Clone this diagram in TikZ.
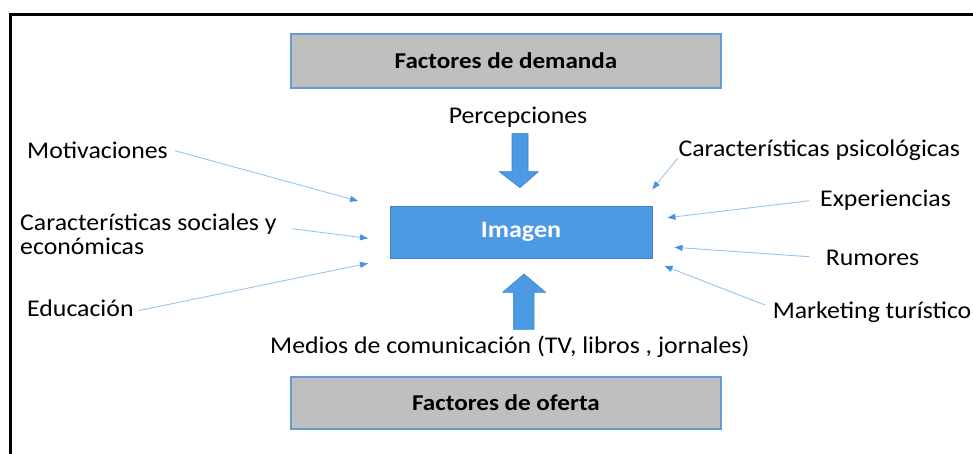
\documentclass[tikz,border=0pt]{standalone}
\usepackage{fontspec}
\setmainfont{Carlito}[FakeStretch=1.075, BoldFeatures={FakeStretch=1.11}]
\usetikzlibrary{arrows.meta}
\definecolor{boxgray}{RGB}{191,191,191}
\definecolor{boxedge}{RGB}{100,155,215}
\definecolor{imgblue}{RGB}{76,154,228}
\definecolor{imgedge}{RGB}{65,130,200}
\definecolor{linkblue}{RGB}{150,195,240}
\definecolor{tipblue}{RGB}{70,145,225}
\tikzset{
  graybox/.style={draw=boxedge, line width=1.2pt, fill=boxgray, minimum width=430pt, minimum height=54pt, inner sep=0pt, font=\fontsize{22.6}{26}\selectfont\bfseries},
  imgbox/.style={draw=imgedge, line width=0.8pt, fill=imgblue, minimum width=262pt, minimum height=52pt, inner sep=0pt, text=white, font=\fontsize{23.5}{27}\selectfont\bfseries},
  lbl/.style={inner sep=0pt, font=\fontsize{24}{29}\selectfont},
  link/.style={draw=linkblue, line width=0.9pt, -{Triangle[length=8pt,width=6pt,fill=tipblue,color=tipblue]}},
  blockarrow/.style={fill=imgblue, draw=imgedge, line width=0.6pt}
}
\begin{document}
\begin{tikzpicture}[x=1pt,y=-1pt]
\useasboundingbox (0,0) rectangle (973,453);
\draw[line width=3pt] (10,480) -- (10,14.5) -- (1000,14.5);

\node[graybox] (demanda) at (506,61) {Factores de demanda};
\node[graybox, minimum height=52pt] (oferta) at (506,403) {Factores de oferta};
\node[imgbox] (imagen) at (521,232) {Imagen};

% labels
\node[lbl, anchor=base] (percep) at (518,123.3) {Percepciones};
\node[lbl, anchor=base west] (medios) at (270,353.5) {Medios de comunicación (TV, libros , jornales)};
\node[lbl, anchor=base west] (motiv) at (27,158.3) {Motivaciones};
\node[lbl, anchor=base west] (soc1) at (20,230) {Características sociales y};
\node[lbl, anchor=base west] (soc2) at (20,254) {económicas};
\node[lbl, anchor=base west] (educ) at (27,316.7) {Educación};
\node[lbl, anchor=base west] (psico) at (678.3,156.7) {Características psicológicas};
\node[lbl, anchor=base west] (exper) at (820,206.7) {Experiencias};
\node[lbl, anchor=base west] (rumor) at (825.7,265) {Rumores};
\node[lbl, anchor=base east] (market) at (971.5,318.3) {Marketing turístico};

% block arrows
\draw[blockarrow] (512,133.3) -- (528,133.3) -- (528,171.7) -- (538.3,171.7) -- (520,187.7) -- (499.3,171.7) -- (512,171.7) -- cycle;
\draw[blockarrow] (513.3,329.3) -- (534,329.3) -- (534,292.3) -- (545.7,292.3) -- (524,274) -- (502.7,292.3) -- (513.3,292.3) -- cycle;

% connector end points
\coordinate (motivS) at (175,150.7);
\coordinate (motivE) at (358,201);
\coordinate (socS) at (291.7,228.7);
\coordinate (socE) at (368,238.3);
\coordinate (educS) at (138.3,310.7);
\coordinate (educE) at (368,263.3);
\coordinate (psicoS) at (677.7,158.3);
\coordinate (psicoE) at (652.3,189.3);
\coordinate (experS) at (809.3,200.7);
\coordinate (experE) at (667.5,217.7);
\coordinate (rumorS) at (809.3,256.7);
\coordinate (rumorE) at (674.5,247.3);
\coordinate (marketS) at (765,305);
\coordinate (marketE) at (664.5,266);

\draw[link] (motivS) -- (motivE);
\draw[link] (socS) -- (socE);
\draw[link] (educS) -- (educE);
\draw[link] (psicoS) -- (psicoE);
\draw[link] (experS) -- (experE);
\draw[link] (rumorS) -- (rumorE);
\draw[link] (marketS) -- (marketE);
\end{tikzpicture}
\end{document}
